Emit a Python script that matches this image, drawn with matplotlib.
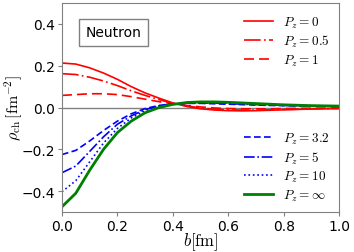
import numpy as np
import matplotlib
matplotlib.use("Agg")
from matplotlib import pyplot as plt

plt.rcParams['mathtext.fontset'] = 'cm'

b = np.arange(0, 1.0001, 0.05)

# Pz = 0, 0.5, 1 (red)
pz0 = [0.213, 0.208, 0.190, 0.165, 0.135, 0.100, 0.070, 0.045, 0.022, 0.005, -0.006,
       -0.012, -0.015, -0.016, -0.015, -0.013, -0.011, -0.009, -0.007, -0.006, -0.005]
pz05 = [0.162, 0.158, 0.145, 0.127, 0.105, 0.080, 0.058, 0.038, 0.020, 0.008, -0.002,
        -0.008, -0.011, -0.012, -0.012, -0.011, -0.009, -0.008, -0.006, -0.005, -0.004]
pz1 = [0.058, 0.062, 0.066, 0.066, 0.062, 0.052, 0.040, 0.028, 0.018, 0.010, 0.003,
       -0.002, -0.005, -0.006, -0.006, -0.006, -0.005, -0.004, -0.003, -0.003, -0.002]
# Pz = 3.2, 5, 10, inf
pz32 = [-0.225, -0.205, -0.160, -0.110, -0.065, -0.030, -0.005, 0.010, 0.018, 0.020, 0.020,
        0.018, 0.016, 0.014, 0.012, 0.010, 0.009, 0.008, 0.007, 0.006, 0.005]
pz5 = [-0.312, -0.280, -0.210, -0.140, -0.080, -0.040, -0.010, 0.008, 0.017, 0.021, 0.022,
       0.021, 0.019, 0.016, 0.014, 0.012, 0.010, 0.009, 0.008, 0.007, 0.006]
pz10 = [-0.403, -0.350, -0.260, -0.170, -0.100, -0.050, -0.015, 0.005, 0.016, 0.022, 0.024,
        0.024, 0.022, 0.019, 0.016, 0.014, 0.012, 0.010, 0.009, 0.008, 0.007]
pzinf = [-0.475, -0.410, -0.300, -0.200, -0.120, -0.065, -0.025, 0.000, 0.015, 0.024, 0.027,
         0.027, 0.025, 0.022, 0.019, 0.016, 0.013, 0.011, 0.009, 0.008, 0.007]

fig, ax = plt.subplots(figsize=(3.54, 2.53), dpi=100)
fig.subplots_adjust(left=0.175, right=0.958, top=0.984, bottom=0.158)

ax.axhline(0, color='gray', lw=1, zorder=0)

l1, = ax.plot(b, pz0, color='red', lw=1.2, ls='-', label=r'$P_z=0$')
l2, = ax.plot(b, pz05, color='red', lw=1.2, ls=(0, (10, 2, 1, 2)), label=r'$P_z=0.5$')
l3, = ax.plot(b, pz1, color='red', lw=1.2, ls=(0, (6, 3)), label=r'$P_z=1$')
l4, = ax.plot(b, pz32, color='blue', lw=1.2, ls=(0, (4, 2)), label=r'$P_z=3.2$')
l5, = ax.plot(b, pz5, color='blue', lw=1.2, ls='-.', label=r'$P_z=5$')
l6, = ax.plot(b, pz10, color='blue', lw=1.2, ls=':', label=r'$P_z=10$')
l7, = ax.plot(b, pzinf, color='green', lw=2, ls='-', label=r'$P_z=\infty$')

ax.set_xlim(0, 1)
ax.set_ylim(-0.5, 0.5)
ax.set_xticks([0, 0.2, 0.4, 0.6, 0.8, 1.0])
ax.set_yticks([-0.4, -0.2, 0.0, 0.2, 0.4])
ax.tick_params(labelsize=10, color='gray', length=3, pad=2)
for s in ax.spines.values():
    s.set_color('gray')

ax.set_xlabel(r'$b[{\rm fm}]$', fontsize=12)
ax.set_ylabel(r'$\rho_{\rm ch}\,[{\rm fm}^{-2}]$', fontsize=11.5)
ax.xaxis.set_label_coords(0.5, -0.085)
ax.yaxis.set_label_coords(-0.135, 0.5)

ax.text(0.085, 0.84, 'Neutron', transform=ax.transAxes, fontsize=10,
        bbox=dict(facecolor='white', edgecolor='gray', boxstyle='square,pad=0.5'))

leg1 = ax.legend(handles=[l1, l2, l3], loc='upper right', frameon=False, fontsize=9.5,
                 handlelength=2.2, labelspacing=0.25, borderaxespad=0.3,
                 bbox_to_anchor=(1.0, 0.99))
ax.add_artist(leg1)
ax.legend(handles=[l4, l5, l6, l7], loc='lower right', frameon=False, fontsize=9.5,
          handlelength=2.2, labelspacing=0.25, borderaxespad=0.3)

fig.savefig('out.png', dpi=100)
